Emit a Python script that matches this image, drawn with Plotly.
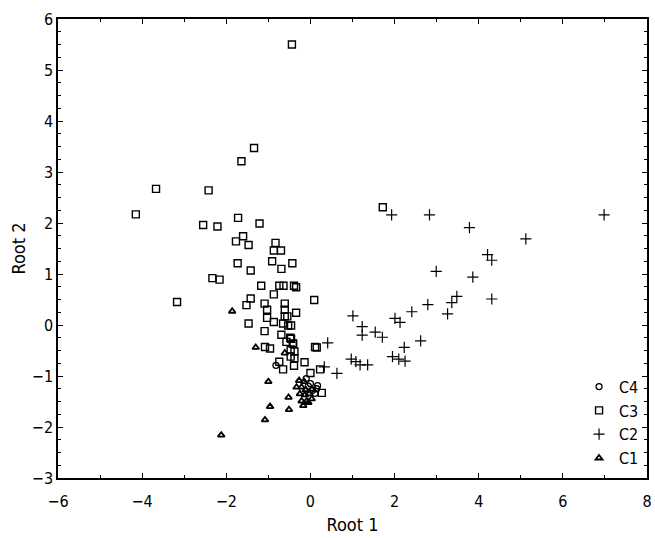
import plotly.graph_objects as go

# Canonical roots
c4_x = [-0.82, 0.17, 0.11, 0.00, 0.05, -0.05, 0.15, -0.10]
c4_y = [-0.79, -1.19, -1.34, -1.15, -1.28, -1.20, -1.25, -1.05]

c3_x = [-0.44, -1.34, -1.64, -3.67, -2.42, -4.15, -2.55, -2.21, -1.72, -1.21,
        -1.60, -1.77, -1.47, -0.83, -0.87, -0.70, -1.73, -1.42, -0.91, -0.69,
        -0.43, -2.33, -2.16, -1.17, -0.74, -0.64, -0.39, -0.34, -0.87, 0.09,
        -3.17, -1.42, -1.52, -1.09, -1.03, -1.03, -0.61, -0.61, -0.61, -0.55,
        -0.34, -1.47, -0.87, -0.65, -0.53, -0.46, -1.09, -0.69, -0.48, -0.57,
        -0.42, -1.08, -0.96, 0.11, 0.15, -0.47, -0.38, -0.47, -0.38, 1.72,
        -0.14, 0.00, 0.23, -0.74, -0.65, -0.39, 0.27, -0.46, -0.41]
c3_y = [5.50, 3.47, 3.21, 2.67, 2.64, 2.17, 1.96, 1.93, 2.10, 1.99,
        1.74, 1.64, 1.57, 1.61, 1.46, 1.46, 1.21, 1.07, 1.25, 1.10,
        1.21, 0.92, 0.89, 0.77, 0.77, 0.77, 0.77, 0.74, 0.60, 0.49,
        0.45, 0.52, 0.39, 0.42, 0.30, 0.14, 0.42, 0.30, 0.17, 0.17,
        0.24, 0.03, 0.06, 0.03, -0.01, -0.01, -0.12, -0.19, -0.25, -0.33,
        -0.37, -0.43, -0.46, -0.43, -0.44, -0.48, -0.52, -0.62, -0.65, 2.31,
        -0.73, -0.94, -0.87, -0.72, -0.87, -0.80, -1.33, -0.27, -0.36]

c2_x = [1.93, 2.83, 3.78, 5.12, 6.98, 4.21, 4.31, 2.99, 3.86, 4.31,
        3.48, 3.36, 2.79, 3.26, 2.41, 2.01, 2.13, 1.01, 1.23, 1.23,
        1.54, 1.71, 2.62, 2.23, 0.41, 1.95, 2.10, 2.25, 0.97, 1.18,
        1.36, 1.08, 0.33, 0.63]
c2_y = [2.16, 2.16, 1.91, 1.69, 2.16, 1.38, 1.27, 1.05, 0.94, 0.51,
        0.56, 0.44, 0.40, 0.22, 0.26, 0.13, 0.05, 0.18, -0.03, -0.20,
        -0.14, -0.24, -0.31, -0.44, -0.35, -0.62, -0.67, -0.71, -0.67, -0.78,
        -0.78, -0.72, -0.82, -0.95]

c1_x = [-1.86, -1.30, -0.61, -1.00, -0.52, -0.96, -0.51, -1.08, -2.12, -0.27,
        -0.15, -0.33, -0.21, -0.11, 0.03, -0.25, -0.13, -0.03, -0.21, -0.09,
        -0.17, -0.05, 0.03]
c1_y = [0.27, -0.44, -0.55, -1.11, -1.42, -1.60, -1.66, -1.86, -2.16, -1.09,
        -1.11, -1.22, -1.22, -1.27, -1.26, -1.35, -1.37, -1.35, -1.49, -1.49,
        -1.58, -1.52, -1.45]

FONT = "DejaVu Sans Condensed, Liberation Sans Narrow, Liberation Sans, sans-serif"

fig = go.Figure()
fig.add_trace(go.Scatter(x=c4_x, y=c4_y, mode='markers', name='C4',
                         marker=dict(symbol='circle-open', size=6, color='black', line=dict(width=1.3))))
fig.add_trace(go.Scatter(x=c3_x, y=c3_y, mode='markers', name='C3',
                         marker=dict(symbol='square-open', size=7, color='black', line=dict(width=1.4))))
fig.add_trace(go.Scatter(x=c2_x, y=c2_y, mode='markers', name='C2',
                         marker=dict(symbol='cross-thin-open', size=8, color='black', line=dict(width=1.2))))
fig.add_trace(go.Scatter(x=c1_x, y=c1_y, mode='markers', name='C1',
                         marker=dict(symbol='triangle-up-open', size=6, color='black', line=dict(width=1.8))))

axis_common = dict(showline=True, linecolor='black', linewidth=1.5, mirror='ticks',
                   ticks='inside', ticklen=5, tickwidth=1, tickcolor='black',
                   showgrid=False, zeroline=False, automargin=False,
                   tickfont=dict(family=FONT, size=16, color='black'))

fig.update_xaxes(range=[-6, 8], dtick=2, ticklabelstandoff=8,
                 title=dict(text='Root 1', font=dict(family=FONT, size=18, color='black'), standoff=8),
                 minor=dict(dtick=1, ticks='inside', ticklen=3, tickcolor='black', showgrid=False),
                 **axis_common)
fig.update_yaxes(range=[-3, 6], dtick=1,
                 title=dict(text='Root 2', font=dict(family=FONT, size=18, color='black'), standoff=2),
                 minor=dict(dtick=0.25, ticks='inside', ticklen=3, tickcolor='black', showgrid=False),
                 **axis_common)

fig.update_layout(
    width=655, height=538,
    margin=dict(l=58, r=8, t=19, b=60),
    plot_bgcolor='white', paper_bgcolor='white',
    font=dict(family=FONT, color='black'),
    legend=dict(x=0.995, y=0.005, xanchor='right', yanchor='bottom',
                font=dict(family=FONT, size=16, color='black'),
                bgcolor='rgba(0,0,0,0)', itemwidth=30, tracegroupgap=0),
)

# drop the browser's default 8px body margin so the figure sits at the window corner
fig.write_html("out.html", config={'displayModeBar': False},
               post_script="document.body.style.margin = '0';")
